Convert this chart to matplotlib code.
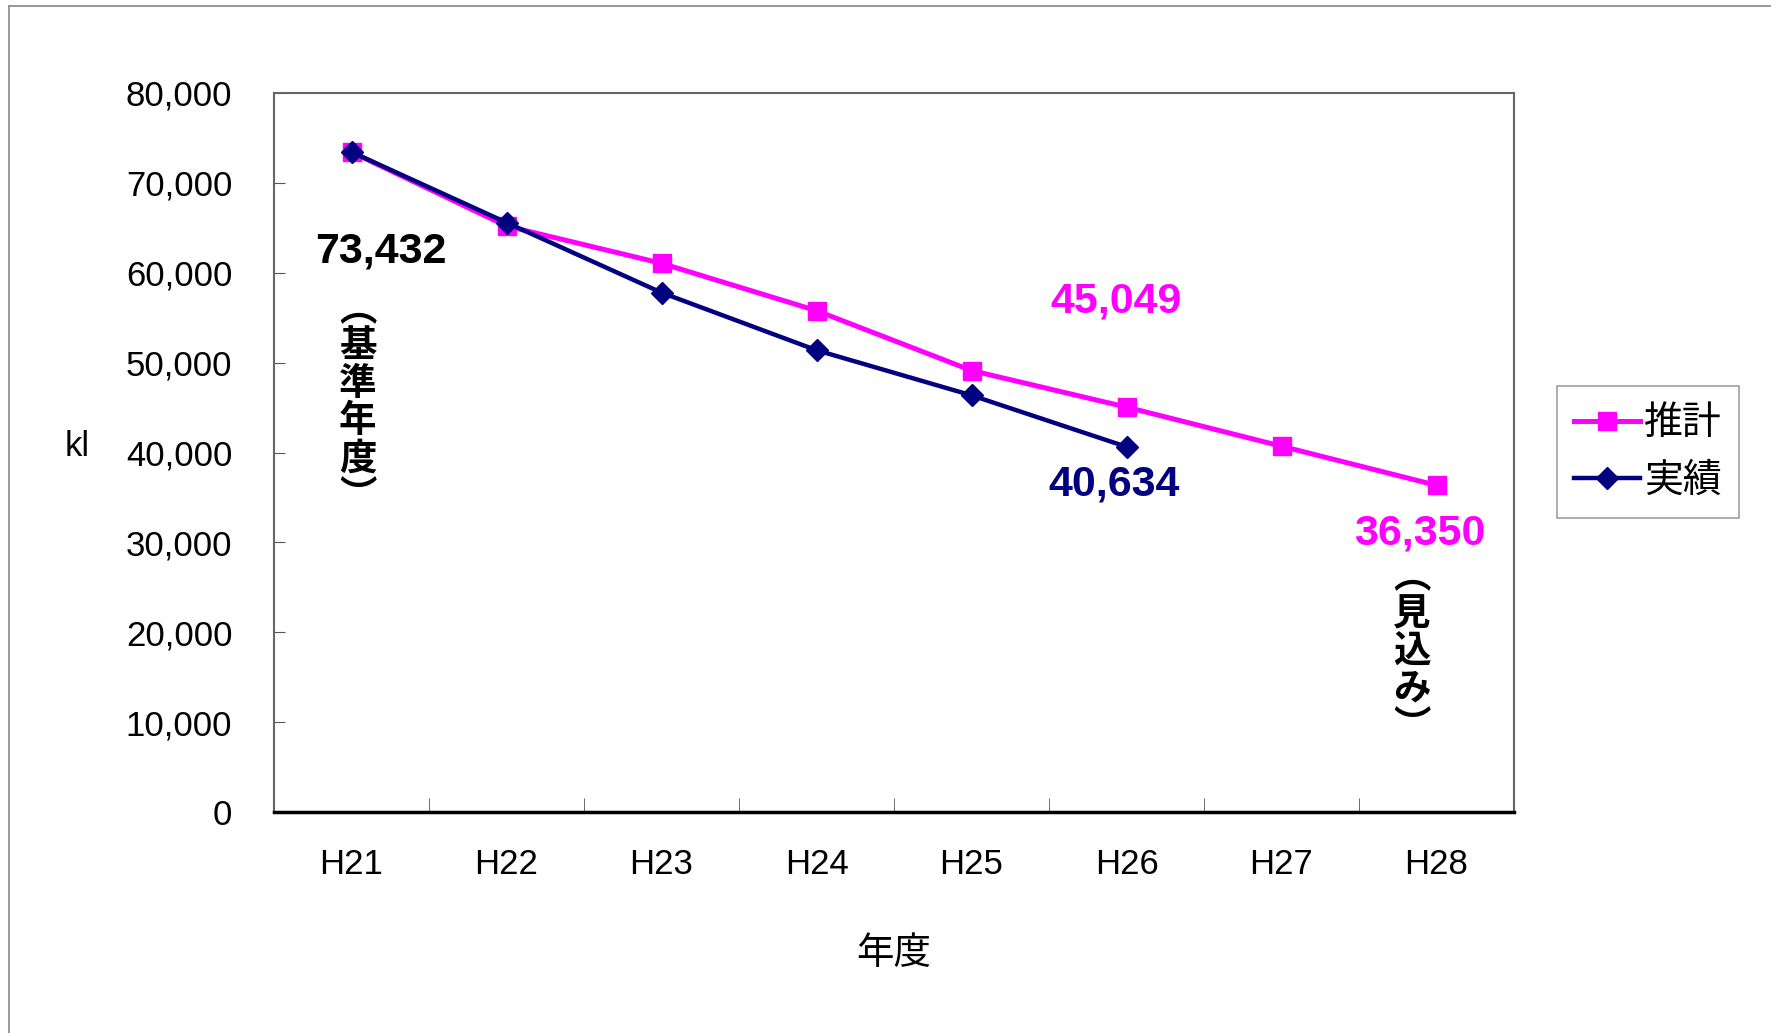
import matplotlib.pyplot as plt
from matplotlib.lines import Line2D

# data (kl)
years = ['H21', 'H22', 'H23', 'H24', 'H25', 'H26', 'H27', 'H28']
estimate = [73432, 65200, 61050, 55780, 49120, 45049, 40700, 36350]
actual = [73432, 65580, 57790, 51380, 46360, 40634]

pink = '#FF00FF'
navy = '#000080'
num_font = ['Liberation Sans Narrow', 'Liberation Sans', 'DejaVu Sans']
bold_font = ['Liberation Sans', 'DejaVu Sans']
jp_font = ['Noto Sans CJK JP', 'DejaVu Sans']

W, H = 1771, 1033
fig = plt.figure(figsize=(W / 100, H / 100), dpi=100)

# outer chart frame (left and top only are visible)
fig.add_artist(Line2D([9 / W, 9 / W], [0, 1 - 6 / H], color='#888888', lw=1.2))
fig.add_artist(Line2D([9 / W, 1], [1 - 6 / H, 1 - 6 / H], color='#888888', lw=1.2))

ax = fig.add_axes([274 / W, 1 - 812 / H, (1514 - 274) / W, (812 - 93) / H])
x = list(range(len(years)))

ax.plot(x, estimate, color=pink, lw=3.6, marker='s', ms=13, label='推計', zorder=3)
ax.plot(x[:len(actual)], actual, color=navy, lw=3.2, marker='D', ms=11, label='実績', zorder=4)

ax.set_xlim(-0.5, 7.5)
ax.set_ylim(0, 80000)
ax.set_yticks(range(0, 80001, 10000))
ax.set_yticklabels(['{:,}'.format(v) for v in range(0, 80001, 10000)],
                   family=num_font, fontsize=25)
ax.set_xticks(x)
ax.set_xticklabels(years, family=num_font, fontsize=25)
ax.set_xticks([i + 0.5 for i in range(7)], minor=True)
ax.tick_params(axis='x', which='major', length=0, pad=26)
ax.tick_params(axis='x', which='minor', direction='in', length=10, color='#555555')
ax.tick_params(axis='y', direction='in', length=8, color='#555555', pad=30)

for s in ['top', 'right', 'left']:
    ax.spines[s].set_color('#666666')
    ax.spines[s].set_linewidth(1.5)
ax.spines['bottom'].set_color('black')
ax.spines['bottom'].set_linewidth(2.5)

ax.set_xlabel('年度', family=jp_font, fontsize=27, labelpad=38)
fig.text(77 / W, 1 - 447 / H, 'kl', family=num_font, fontsize=25, ha='center', va='center')

# value labels
ax.text(0.19, 62400, '{:,}'.format(estimate[0]), color='black', fontsize=31,
        fontweight='bold', family=bold_font, ha='center', va='center')
ax.text(4.93, 56800, '{:,}'.format(estimate[5]), color=pink, fontsize=31,
        fontweight='bold', family=bold_font, ha='center', va='center')
ax.text(4.92, 36400, '{:,}'.format(actual[5]), color=navy, fontsize=31,
        fontweight='bold', family=bold_font, ha='center', va='center')
ax.text(6.89, 31000, '{:,}'.format(estimate[7]), color=pink, fontsize=31,
        fontweight='bold', family=bold_font, ha='center', va='center')

# vertical notes
ax.text(0.04, 45620, '︵\n基\n準\n年\n度\n︶', family=jp_font, fontsize=27,
        fontweight='bold', ha='center', va='center', linespacing=0.95)
ax.text(6.84, 17910, '︵\n見\n込\nみ\n︶', family=jp_font, fontsize=27,
        fontweight='bold', ha='center', va='center', linespacing=0.95)

leg = ax.legend(loc='center', bbox_to_anchor=(1648 / W, 1 - 452 / H),
                bbox_transform=fig.transFigure, prop={'family': jp_font, 'size': 28},
                frameon=True, fancybox=False, edgecolor='#888888', handlelength=1.7,
                handletextpad=0.1, borderpad=0.45, borderaxespad=0, labelspacing=0.45)
leg.get_frame().set_linewidth(1.2)

fig.savefig('out.png', dpi=100)
